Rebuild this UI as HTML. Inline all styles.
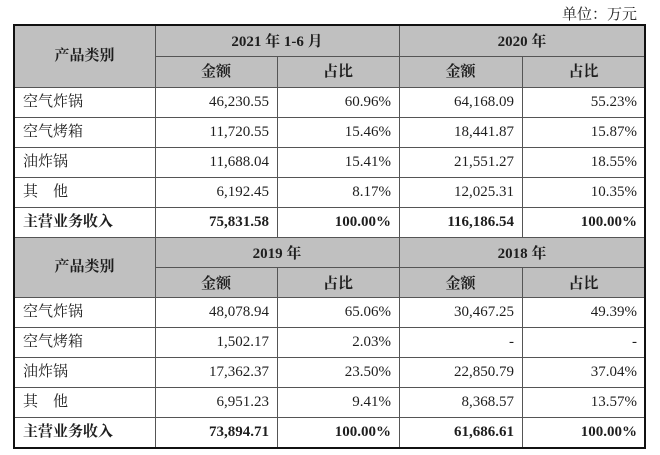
<!DOCTYPE html>
<html><head><meta charset="utf-8">
<style>
html,body{margin:0;padding:0;background:#fff;}
body{width:660px;height:455px;position:relative;overflow:hidden;font-family:"Liberation Serif","Noto Serif CJK SC",serif;color:#1e1e1e;font-size:15px;}
.g{position:absolute;background:#c0c0c0;}
.h{position:absolute;height:1px;background:#555;}
.v{position:absolute;width:1px;background:#555;}
.c{position:absolute;height:30px;line-height:30px;white-space:nowrap;box-sizing:border-box;}
.l{text-align:left;padding-left:9px;}
.r{text-align:right;padding-right:8px;}
.m{text-align:center;}
.b{font-weight:bold;}
</style></head><body>
<div style="position:absolute;right:23px;top:5px;line-height:20px;font-size:15px;">单位：万元</div>

<div class="g" style="left:14px;top:25px;width:631px;height:62px;"></div>
<div class="g" style="left:14px;top:237px;width:631px;height:60px;"></div>

<!-- horizontal lines -->
<div class="h" style="left:155px;top:56px;width:490px;"></div>
<div class="h" style="left:14px;top:87px;width:631px;"></div>
<div class="h" style="left:14px;top:117px;width:631px;"></div>
<div class="h" style="left:14px;top:147px;width:631px;"></div>
<div class="h" style="left:14px;top:177px;width:631px;"></div>
<div class="h" style="left:14px;top:207px;width:631px;"></div>
<div class="h" style="left:14px;top:237px;width:631px;"></div>
<div class="h" style="left:155px;top:267px;width:490px;"></div>
<div class="h" style="left:14px;top:297px;width:631px;"></div>
<div class="h" style="left:14px;top:327px;width:631px;"></div>
<div class="h" style="left:14px;top:357px;width:631px;"></div>
<div class="h" style="left:14px;top:387px;width:631px;"></div>
<div class="h" style="left:14px;top:417px;width:631px;"></div>

<!-- vertical lines -->
<div class="v" style="left:155px;top:25px;height:423px;"></div>
<div class="v" style="left:399px;top:25px;height:423px;"></div>
<div class="v" style="left:277px;top:56px;height:181px;"></div>
<div class="v" style="left:522px;top:56px;height:181px;"></div>
<div class="v" style="left:277px;top:267px;height:181px;"></div>
<div class="v" style="left:522px;top:267px;height:181px;"></div>

<!-- outer border -->
<div style="position:absolute;left:13px;top:24px;width:633px;height:425px;border:2px solid #111;box-sizing:border-box;"></div>

<!-- header 1 -->
<div class="c m b" style="left:14px;top:25px;width:141px;height:62px;line-height:62px;">产品类别</div>
<div class="c m b" style="left:155px;top:27px;width:244px;height:31px;line-height:31px;">2021 年 1-6 月</div>
<div class="c m b" style="left:399px;top:27px;width:246px;height:31px;line-height:31px;">2020 年</div>
<div class="c m b" style="left:155px;top:57px;width:122px;height:31px;line-height:31px;">金额</div>
<div class="c m b" style="left:277px;top:57px;width:122px;height:31px;line-height:31px;">占比</div>
<div class="c m b" style="left:399px;top:57px;width:123px;height:31px;line-height:31px;">金额</div>
<div class="c m b" style="left:522px;top:57px;width:123px;height:31px;line-height:31px;">占比</div>

<!-- rows block 1 -->
<div class="c l" style="left:14px;top:87px;width:141px;">空气炸锅</div>
<div class="c r" style="left:155px;top:87px;width:122px;">46,230.55</div>
<div class="c r" style="left:277px;top:87px;width:122px;">60.96%</div>
<div class="c r" style="left:399px;top:87px;width:123px;">64,168.09</div>
<div class="c r" style="left:522px;top:87px;width:123px;">55.23%</div>

<div class="c l" style="left:14px;top:117px;width:141px;">空气烤箱</div>
<div class="c r" style="left:155px;top:117px;width:122px;">11,720.55</div>
<div class="c r" style="left:277px;top:117px;width:122px;">15.46%</div>
<div class="c r" style="left:399px;top:117px;width:123px;">18,441.87</div>
<div class="c r" style="left:522px;top:117px;width:123px;">15.87%</div>

<div class="c l" style="left:14px;top:147px;width:141px;">油炸锅</div>
<div class="c r" style="left:155px;top:147px;width:122px;">11,688.04</div>
<div class="c r" style="left:277px;top:147px;width:122px;">15.41%</div>
<div class="c r" style="left:399px;top:147px;width:123px;">21,551.27</div>
<div class="c r" style="left:522px;top:147px;width:123px;">18.55%</div>

<div class="c l" style="left:14px;top:177px;width:141px;">其　他</div>
<div class="c r" style="left:155px;top:177px;width:122px;">6,192.45</div>
<div class="c r" style="left:277px;top:177px;width:122px;">8.17%</div>
<div class="c r" style="left:399px;top:177px;width:123px;">12,025.31</div>
<div class="c r" style="left:522px;top:177px;width:123px;">10.35%</div>

<div class="c l b" style="left:14px;top:207px;width:141px;">主营业务收入</div>
<div class="c r b" style="left:155px;top:207px;width:122px;">75,831.58</div>
<div class="c r b" style="left:277px;top:207px;width:122px;">100.00%</div>
<div class="c r b" style="left:399px;top:207px;width:123px;">116,186.54</div>
<div class="c r b" style="left:522px;top:207px;width:123px;">100.00%</div>

<!-- header 2 -->
<div class="c m b" style="left:14px;top:237px;width:141px;height:60px;line-height:60px;">产品类别</div>
<div class="c m b" style="left:155px;top:239px;width:244px;">2019 年</div>
<div class="c m b" style="left:399px;top:239px;width:246px;">2018 年</div>
<div class="c m b" style="left:155px;top:269px;width:122px;">金额</div>
<div class="c m b" style="left:277px;top:269px;width:122px;">占比</div>
<div class="c m b" style="left:399px;top:269px;width:123px;">金额</div>
<div class="c m b" style="left:522px;top:269px;width:123px;">占比</div>

<!-- rows block 2 -->
<div class="c l" style="left:14px;top:297px;width:141px;">空气炸锅</div>
<div class="c r" style="left:155px;top:297px;width:122px;">48,078.94</div>
<div class="c r" style="left:277px;top:297px;width:122px;">65.06%</div>
<div class="c r" style="left:399px;top:297px;width:123px;">30,467.25</div>
<div class="c r" style="left:522px;top:297px;width:123px;">49.39%</div>

<div class="c l" style="left:14px;top:327px;width:141px;">空气烤箱</div>
<div class="c r" style="left:155px;top:327px;width:122px;">1,502.17</div>
<div class="c r" style="left:277px;top:327px;width:122px;">2.03%</div>
<div class="c r" style="left:399px;top:327px;width:123px;">-</div>
<div class="c r" style="left:522px;top:327px;width:123px;">-</div>

<div class="c l" style="left:14px;top:357px;width:141px;">油炸锅</div>
<div class="c r" style="left:155px;top:357px;width:122px;">17,362.37</div>
<div class="c r" style="left:277px;top:357px;width:122px;">23.50%</div>
<div class="c r" style="left:399px;top:357px;width:123px;">22,850.79</div>
<div class="c r" style="left:522px;top:357px;width:123px;">37.04%</div>

<div class="c l" style="left:14px;top:387px;width:141px;">其　他</div>
<div class="c r" style="left:155px;top:387px;width:122px;">6,951.23</div>
<div class="c r" style="left:277px;top:387px;width:122px;">9.41%</div>
<div class="c r" style="left:399px;top:387px;width:123px;">8,368.57</div>
<div class="c r" style="left:522px;top:387px;width:123px;">13.57%</div>

<div class="c l b" style="left:14px;top:417px;width:141px;height:31px;line-height:31px;">主营业务收入</div>
<div class="c r b" style="left:155px;top:417px;width:122px;height:31px;line-height:31px;">73,894.71</div>
<div class="c r b" style="left:277px;top:417px;width:122px;height:31px;line-height:31px;">100.00%</div>
<div class="c r b" style="left:399px;top:417px;width:123px;height:31px;line-height:31px;">61,686.61</div>
<div class="c r b" style="left:522px;top:417px;width:123px;height:31px;line-height:31px;">100.00%</div>
</body></html>
